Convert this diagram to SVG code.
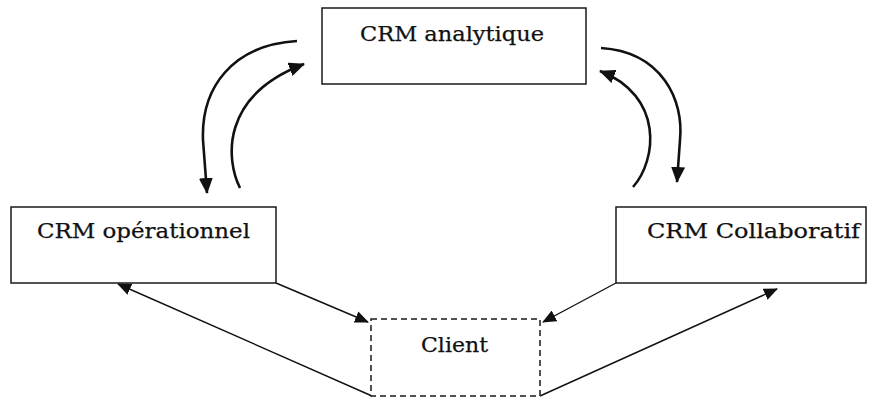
<svg xmlns="http://www.w3.org/2000/svg" width="869" height="398" viewBox="0 0 869 398">
  <style>
    .box { fill: #fff; stroke: #1a1a1a; stroke-width: 1.5; }
    .dashed { stroke-dasharray: 6 4; }
    .label { font-family: "DejaVu Serif", "Liberation Serif", serif; font-size: 21px; fill: #111; stroke: #111; stroke-width: 0.25; text-anchor: middle; }
    .link { fill: none; stroke: #111; stroke-width: 1.4; }
    .loop { fill: none; stroke: #111; stroke-width: 2.6; }
  </style>
  <defs>
    <marker id="head" markerUnits="userSpaceOnUse" viewBox="0 0 14 12" refX="13" refY="6" markerWidth="14" markerHeight="12" orient="auto">
      <path d="M0,0 L14,6 L0,12 Z" fill="#111"/>
    </marker>
    <marker id="headBig" markerUnits="userSpaceOnUse" viewBox="0 0 16 14" refX="15" refY="7" markerWidth="16" markerHeight="14" orient="auto">
      <path d="M0,0 L16,7 L0,14 Z" fill="#111"/>
    </marker>
  </defs>

  <g id="connectors">
    <!-- straight links between the side boxes and the client -->
    <line class="link" x1="276" y1="283" x2="368" y2="322" marker-end="url(#head)"/>
    <line class="link" x1="372" y1="396" x2="118" y2="284" marker-end="url(#head)"/>
    <line class="link" x1="616" y1="283" x2="543" y2="322" marker-end="url(#head)"/>
    <line class="link" x1="540" y1="396" x2="777" y2="289" marker-end="url(#head)"/>
    <!-- curved exchange arrows with the analytic CRM -->
    <path class="loop" d="M297,41 C232,45 201,88 203,140 L207,193" marker-end="url(#headBig)"/>
    <path class="loop" d="M240,188 C226,160 220,96 304,64" marker-end="url(#headBig)"/>
    <path class="loop" d="M601,48 C662,52 684,100 680,140 L677,182" marker-end="url(#headBig)"/>
    <path class="loop" d="M633,187 C657,160 664,96 600,71" marker-end="url(#headBig)"/>
  </g>

  <g id="crm-analytique">
    <rect class="box" x="322" y="8" width="264" height="76"/>
    <text class="label" x="452" y="41" textLength="184" lengthAdjust="spacingAndGlyphs">CRM analytique</text>
  </g>

  <g id="crm-operationnel">
    <rect class="box" x="11" y="207" width="265" height="76"/>
    <text class="label" x="143.5" y="238" textLength="213" lengthAdjust="spacingAndGlyphs">CRM opérationnel</text>
  </g>

  <g id="crm-collaboratif">
    <rect class="box" x="616" y="207" width="250" height="76"/>
    <text class="label" x="753.5" y="238" textLength="213" lengthAdjust="spacingAndGlyphs">CRM Collaboratif</text>
  </g>

  <g id="client">
    <rect class="box dashed" x="371" y="319" width="169" height="77"/>
    <text class="label" x="454.5" y="352" textLength="67" lengthAdjust="spacingAndGlyphs">Client</text>
  </g>
</svg>
